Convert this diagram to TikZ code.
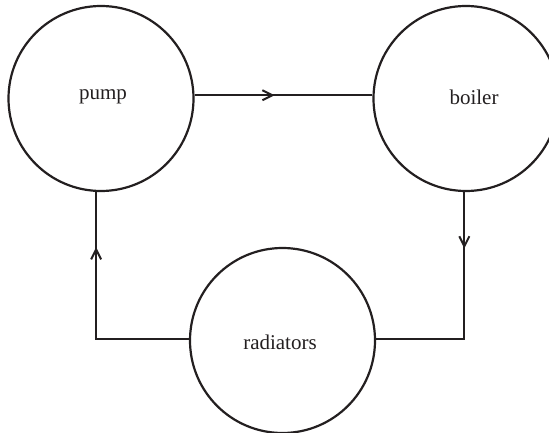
\documentclass[tikz,border=0pt]{standalone}
\usepackage{fontspec}
\setmainfont{Liberation Serif}
\usetikzlibrary{arrows.meta,decorations.markings}
\definecolor{ink}{HTML}{231F20}
\tikzset{
  unit/.style={circle,draw=ink,line width=2.2pt,minimum size=185pt,inner sep=0pt},
  lbl/.style={text=ink,font=\fontsize{21}{24}\selectfont},
  pipe/.style={draw=ink,line width=2.2pt},
  flowat/.style={postaction={decorate},decoration={markings,
     mark=at position #1 with {\arrow{Straight Barb[length=10pt,width=10pt,line width=2pt]}}}}
}
\begin{document}
\begin{tikzpicture}[x=1pt,y=-1pt]
\useasboundingbox (0,0) rectangle (549,433);
\node[unit] (pump) at (101,98.5) {};
\node[unit] (boiler) at (466,98.5) {};
\node[unit] (rad) at (282.5,340.5) {};
\node[lbl] (tpump) at (103,97) {pump};
\node[lbl] (tboiler) at (474,97) {boiler};
\node[lbl] (trad) at (280,342) {radiators};
\path[pipe,flowat=0.45] (pump.2) -- (boiler.178);
\path[pipe,flowat=0.24] (boiler.269) |- (rad.1);
\path[pipe,flowat=0.77] (rad.179) -| (pump.267);
\end{tikzpicture}
\end{document}
